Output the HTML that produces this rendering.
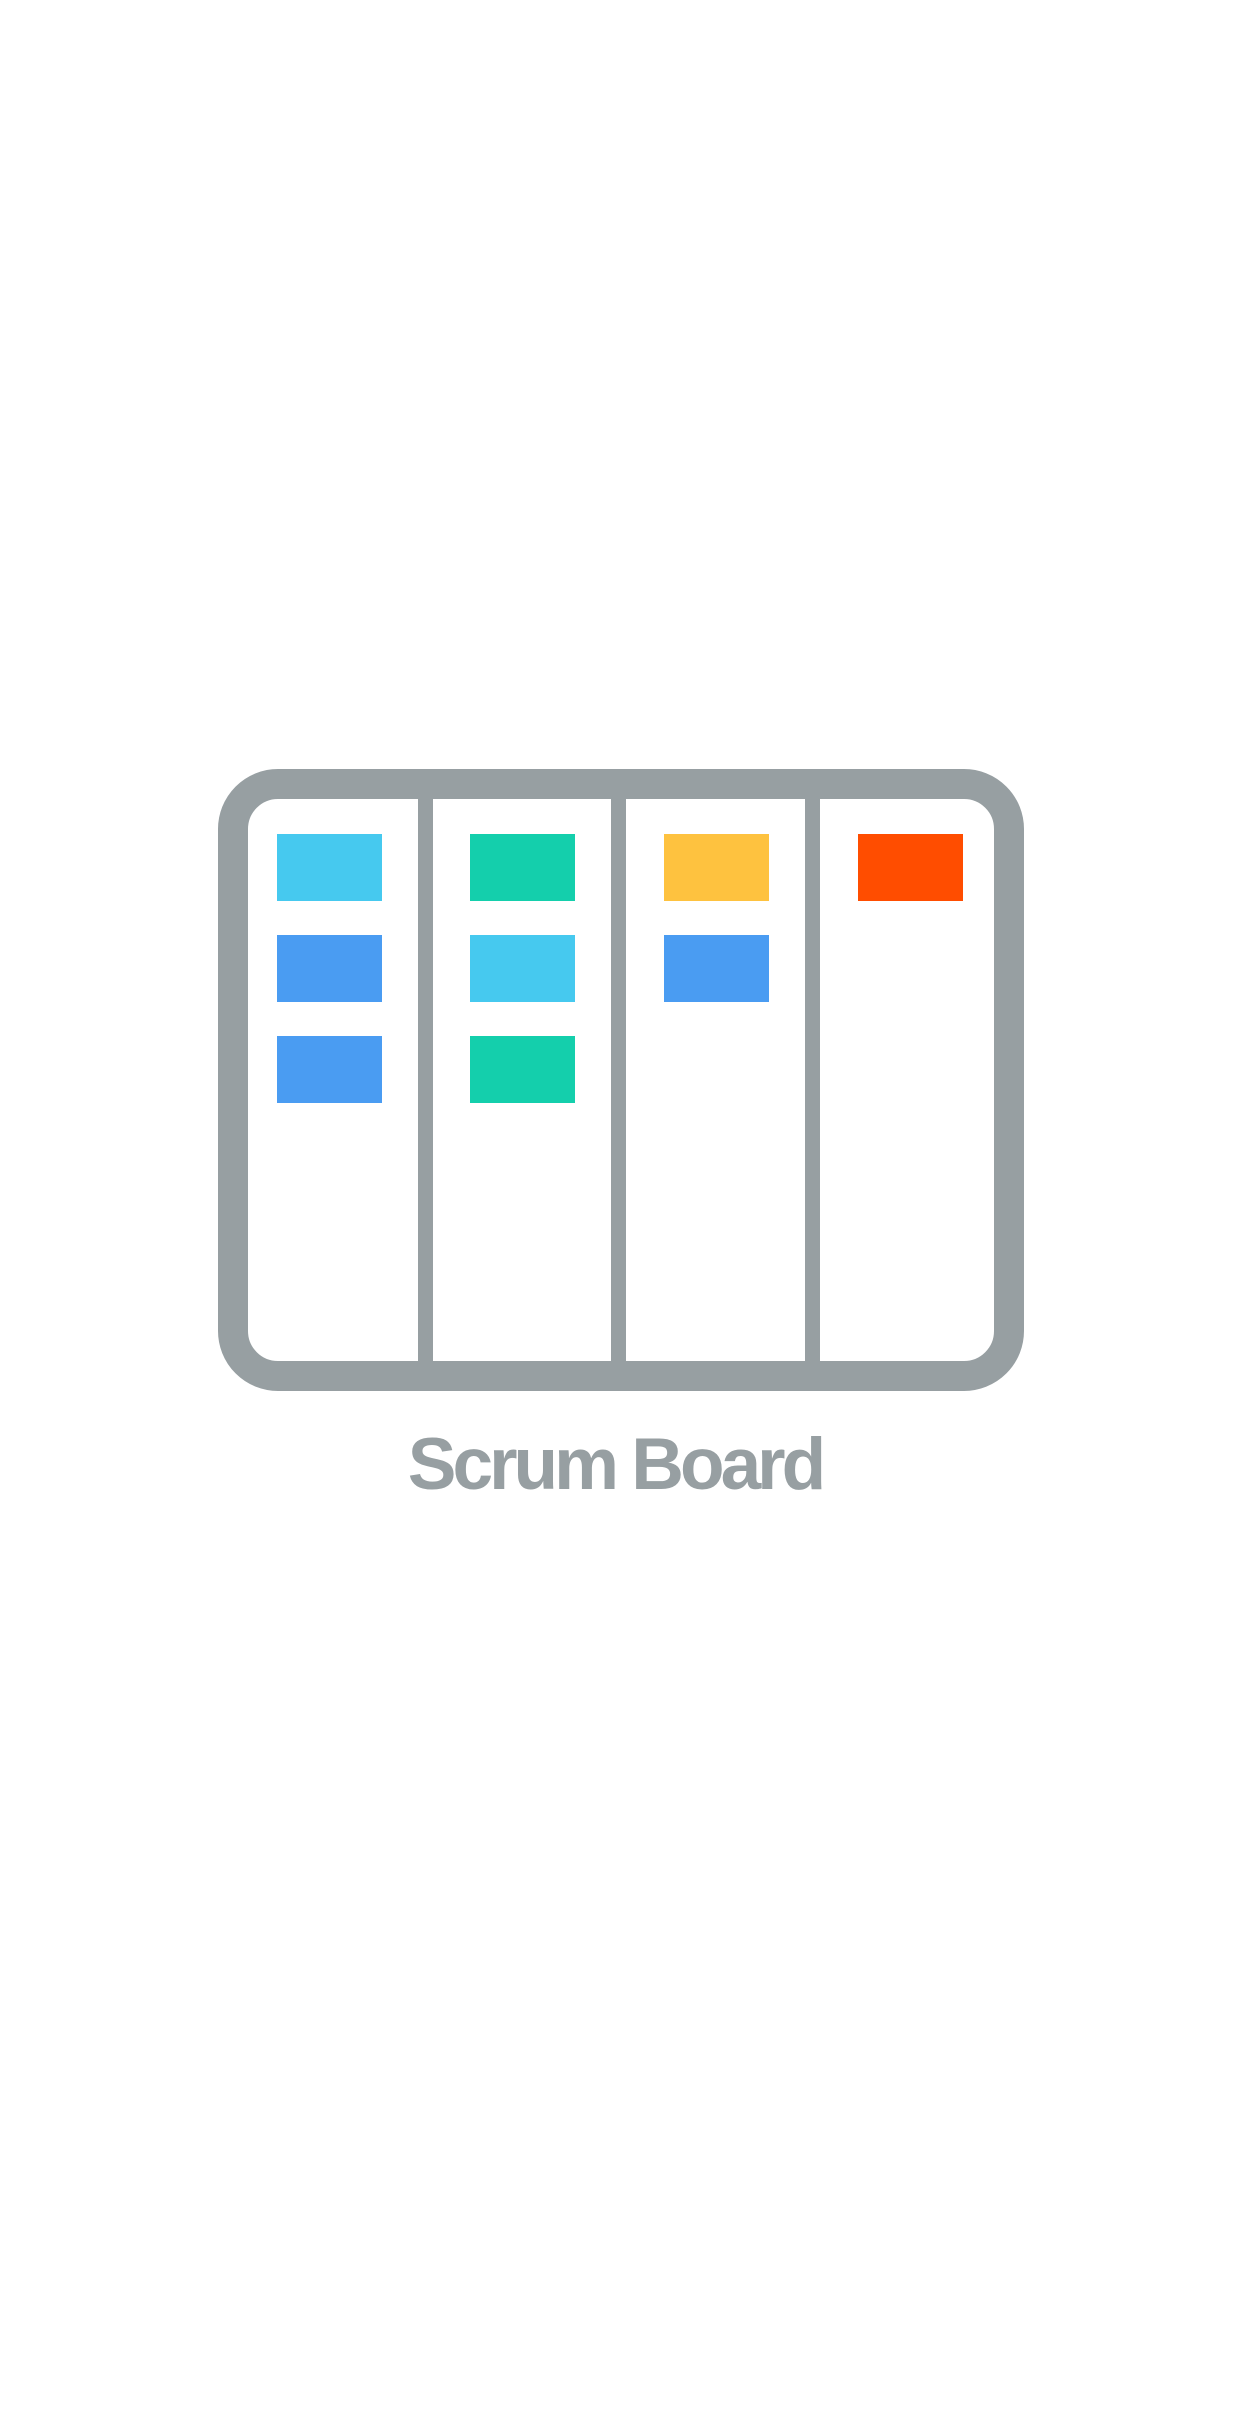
<!DOCTYPE html>
<html><head><meta charset="utf-8"><style>
html,body{margin:0;padding:0;background:#fff;}
body{width:1242px;height:2436px;position:relative;overflow:hidden;}
.t{position:absolute;left:0;width:1230px;top:1424px;text-align:center;font-family:"Liberation Sans",sans-serif;font-weight:bold;font-size:73px;letter-spacing:-4px;color:#979fa2;line-height:82px;}
</style></head><body>
<svg width="1242" height="2436" style="position:absolute;left:0;top:0">
<rect x="233" y="784" width="776" height="592" rx="45" ry="45" fill="#fff" stroke="#979fa2" stroke-width="30"/>
<rect x="418" y="790" width="15" height="580" fill="#979fa2"/>
<rect x="611" y="790" width="15" height="580" fill="#979fa2"/>
<rect x="805" y="790" width="15" height="580" fill="#979fa2"/>
<rect x="277" y="834" width="105" height="67" fill="#46c9ef"/>
<rect x="277" y="935" width="105" height="67" fill="#4a9cf2"/>
<rect x="277" y="1036" width="105" height="67" fill="#4a9cf2"/>
<rect x="470" y="834" width="105" height="67" fill="#14cfac"/>
<rect x="470" y="935" width="105" height="67" fill="#46c9ef"/>
<rect x="470" y="1036" width="105" height="67" fill="#14cfac"/>
<rect x="664" y="834" width="105" height="67" fill="#fec23f"/>
<rect x="664" y="935" width="105" height="67" fill="#4a9cf2"/>
<rect x="858" y="834" width="105" height="67" fill="#ff4d00"/>
</svg>
<div class="t">Scrum Board</div>
</body></html>
